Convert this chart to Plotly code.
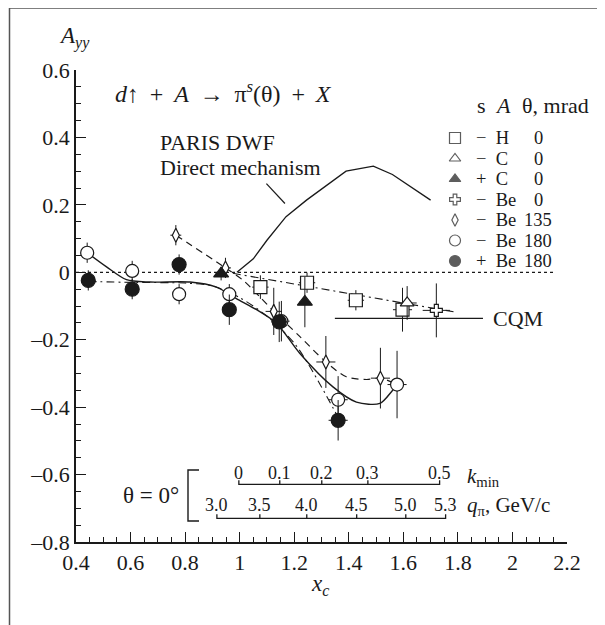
import plotly.graph_objects as go

FONT = "Liberation Serif"
INK = "#1a1a1a"

# ---------------- data ----------------
# open circles: s = -, Be, 180 mrad
oc_x = [0.441, 0.606, 0.778, 0.962, 1.153, 1.361, 1.577]
oc_y = [0.058, 0.004, -0.065, -0.065, -0.145, -0.378, -0.333]
oc_ey = [0.03, 0.03, 0.03, 0.03, 0.06, 0.07, 0.10]
oc_ex = [0.02, 0.02, 0.02, 0.02, 0.03, 0.035, 0.035]
# filled circles: s = +, Be, 180 mrad
fc_x = [0.445, 0.606, 0.778, 0.962, 1.145, 1.361]
fc_y = [-0.024, -0.050, 0.023, -0.111, -0.147, -0.439]
fc_ey = [0.03, 0.03, 0.03, 0.045, 0.06, 0.06]
fc_ex = [0.02, 0.02, 0.02, 0.02, 0.03, 0.035]
# filled triangles: s = +, C, 0
ft_x = [0.932, 1.239]
ft_y = [-0.004, -0.088]
ft_ey = [0.02, 0.075]
ft_ex = [0.02, 0.02]
# open diamonds: s = -, Be, 135 mrad
dm_x = [0.766, 0.948, 1.125, 1.316, 1.516]
dm_y = [0.110, 0.013, -0.116, -0.266, -0.314]
dm_ey = [0.03, 0.03, 0.07, 0.077, 0.09]
dm_ex = [0.02, 0.02, 0.03, 0.035, 0.035]
# open squares: s = -, H, 0
sq_x = [1.076, 1.247, 1.426, 1.597]
sq_y = [-0.044, -0.031, -0.083, -0.111]
sq_ey = [0.035, 0.03, 0.03, 0.065]
sq_ex = [0.03, 0.03, 0.03, 0.035]
# open triangle: s = -, C, 0
ot_x = [1.614]
ot_y = [-0.091]
ot_ey = [0.05]
ot_ex = [0.035]
# open cross: s = -, Be, 0
cr_x = [1.721]
cr_y = [-0.113]
cr_ey = [0.08]
cr_ex = [0.05]

# curves
fit_solid_x = [0.441, 0.512, 0.585, 0.671, 0.818, 0.915, 0.988, 1.06, 1.135, 1.22, 1.342, 1.428, 1.514, 1.561, 1.58]
fit_solid_y = [0.058, 0.016, -0.022, -0.029, -0.029, -0.044, -0.078, -0.11, -0.151, -0.24, -0.34, -0.385, -0.389, -0.35, -0.333]
fit_dd_x = [0.445, 0.6, 0.8, 0.9, 1.0, 1.1, 1.2, 1.25, 1.3, 1.361]
fit_dd_y = [-0.027, -0.03, -0.032, -0.04, -0.075, -0.13, -0.21, -0.27, -0.34, -0.43]
fit_dash_x = [0.766, 0.948, 1.013, 1.074, 1.125, 1.22, 1.316, 1.391, 1.465, 1.516, 1.577]
fit_dash_y = [0.110, 0.013, -0.024, -0.073, -0.116, -0.19, -0.266, -0.31, -0.318, -0.314, -0.333]
h_line_x = [0.975, 1.79]
h_line_y = [-0.003, -0.118]
zero_x = [0.4, 2.15]
zero_y = [0.0, 0.0]
paris_x = [0.99, 1.05, 1.10, 1.17, 1.245, 1.32, 1.39, 1.49, 1.56, 1.70]
paris_y = [0.0, 0.04, 0.095, 0.165, 0.214, 0.258, 0.30, 0.315, 0.29, 0.214]
paris_ptr_x = [1.098, 1.166]
paris_ptr_y = [0.263, 0.204]
cqm_x = [1.349, 1.892]
cqm_y = [-0.137, -0.137]

# auxiliary scales (positions in x_c)
kmin_labels = ["0", "0.1", "0.2", "0.3", "0.5"]
kmin_xc = [0.997, 1.147, 1.301, 1.470, 1.733]
q_labels = ["3.0", "3.5", "4.0", "4.5", "5.0", "5.3"]
q_xc = [0.9165, 1.074, 1.246, 1.429, 1.609, 1.755]

# axis ticks
x_ticks = [0.4, 0.6, 0.8, 1.0, 1.2, 1.4, 1.6, 1.8, 2.0, 2.2]
x_ticktext = ["0.4", "0.6", "0.8", "1", "1.2", "1.4", "1.6", "1.8", "2", "2.2"]
y_ticks = [0.6, 0.4, 0.2, 0.0, -0.2, -0.4, -0.6, -0.8]
y_ticktext = ["0.6", "0.4", "0.2", "0", "\u20130.2", "\u20130.4", "\u20130.6", "\u20130.8"]

# legend table
leg_symbols = ["square", "triangle-up", "triangle-up", "cross", "diamond-tall", "circle", "circle"]
leg_fill = ["white", "white", INK, "white", "white", "white", INK]
leg_size = [11, 10, 10, 9, 9, 11, 11]
leg_sign = ["\u2212", "\u2212", "+", "\u2212", "\u2212", "\u2212", "+"]
leg_elem = ["H", "C", "C", "Be", "Be", "Be", "Be"]
leg_theta = ["0", "0", "0", "0", "135", "180", "180"]

# ---------------- layout geometry (screen pixels) ----------------
OFF = 8  # default page body margin
WIN_W, WIN_H = 605, 625
W, H = WIN_W - OFF, WIN_H - OFF
L, R, T, B = 76, 567, 70, 542


def px(xp):
    return (xp - L) / (R - L)


def py(yp):
    return (B - yp) / (B - T)


fig = go.Figure()


def line(x, y, dash="solid", width=1.3, shape="linear"):
    fig.add_trace(go.Scatter(x=x, y=y, mode="lines", hoverinfo="skip",
                             line=dict(color=INK, width=width, dash=dash, shape=shape, smoothing=0.8),
                             showlegend=False))


line(zero_x, zero_y, dash="3px,3px", width=1.2)
line(fit_solid_x, fit_solid_y, width=1.4, shape="spline")
line(fit_dd_x, fit_dd_y, dash="8px,4px,2px,4px", width=1.1, shape="spline")
line(fit_dash_x, fit_dash_y, dash="7px,5px", width=1.2, shape="spline")
line(h_line_x, h_line_y, dash="8px,4px,2px,4px", width=1.1)
line(paris_x, paris_y, width=1.3)
line(paris_ptr_x, paris_ptr_y, width=1.2)
line(cqm_x, cqm_y, width=1.3)


def pts(x, y, ey, ex, symbol, size, fill):
    fig.add_trace(go.Scatter(
        x=x, y=y, mode="markers", showlegend=False,
        marker=dict(symbol=symbol, size=size, color=fill, line=dict(color=INK, width=1.2)),
        error_y=dict(type="data", array=ey, color=INK, thickness=1, width=0),
        error_x=dict(type="data", array=ex, color=INK, thickness=1, width=0)))


pts(sq_x, sq_y, sq_ey, sq_ex, "square", 13, "white")
pts(ot_x, ot_y, ot_ey, ot_ex, "triangle-up", 12, "white")
pts(cr_x, cr_y, cr_ey, cr_ex, "cross", 10, "white")
pts(dm_x, dm_y, dm_ey, dm_ex, "diamond-tall", 10, "white")
pts(ft_x, ft_y, ft_ey, ft_ex, "triangle-up", 13, INK)
pts(oc_x, oc_y, oc_ey, oc_ex, "circle", 13, "white")
pts(fc_x, fc_y, fc_ey, fc_ex, "circle", 14, INK)


# auxiliary scales drawn in x_c coordinates
def aux_scale(xs, labels, y_line, tick_h, y_lab, size):
    tx, ty = [], []
    for xv in xs:
        tx += [xv, xv, xv]
        ty += [y_line, y_line + tick_h, y_line]
    fig.add_trace(go.Scatter(x=tx, y=ty, mode="lines", hoverinfo="skip", showlegend=False,
                             line=dict(color=INK, width=1.3)))
    for xv, lab in zip(xs, labels):
        fig.add_annotation(x=xv, y=y_lab, text=lab, showarrow=False, xref="x", yref="y",
                           font=dict(size=size, family=FONT, color=INK))


aux_scale(kmin_xc, kmin_labels, -0.629, 0.012, -0.596, 18)
aux_scale(q_xc, q_labels, -0.730, 0.012, -0.690, 18)

# legend symbols on an overlay axis in plot-fraction units
row_y0, row_step = py(138), (py(138) - py(261)) / 6
row_y = [row_y0 - i * row_step for i in range(len(leg_symbols))]
fig.add_trace(go.Scatter(x=[px(455)] * len(leg_symbols), y=row_y, mode="markers", xaxis="x2", yaxis="y2",
                         showlegend=False, hoverinfo="skip",
                         marker=dict(symbol=leg_symbols, size=leg_size, color=leg_fill,
                                     line=dict(color=INK, width=1.2))))


def ann(x, y, text, size=22, xanchor="center", yanchor="middle", xref="paper", yref="paper"):
    fig.add_annotation(x=x, y=y, text=text, showarrow=False, xref=xref, yref=yref,
                       xanchor=xanchor, yanchor=yanchor, borderpad=0,
                       font=dict(size=size, family=FONT, color=INK))


for yv, s, e, t in zip(row_y, leg_sign, leg_elem, leg_theta):
    ann(px(475), yv, s + "\u2002" + e, size=18.5, xanchor="left")
    ann(px(538), yv, t, size=18.5)

ann(px(481), py(105), "s", size=22)
ann(px(503), py(105), "<i>A</i>", size=22)
ann(px(521), py(105), "\u03b8, mrad", size=22, xanchor="left")

sp = " \u2009"
ann(px(114), py(92), f"<i>d</i>\u2191{sp}+{sp}<i>A</i>{sp}\u2192{sp}\u03c0<sup><i>s</i></sup>(\u03b8){sp}+{sp}<i>X</i>",
    size=24, xanchor="left")
ann(px(159), py(142), "PARIS DWF", size=22, xanchor="left")
ann(px(159), py(167), "Direct mechanism", size=22, xanchor="left")
ann(px(492), py(318), "CQM", size=22, xanchor="left")
ann(px(74), py(37), "<i>A</i><sub><i>yy</i></sub>", size=23)
ann(px(320), py(585), "<i>x</i><sub><i>c</i></sub>", size=23)
ann(px(151), py(495), "\u03b8 = 0\u00b0", size=23)
ann(px(466), py(477), "<i>k</i><sub>min</sub>", size=21, xanchor="left")
ann(px(466), py(506), "<i>q</i><sub>\u03c0</sub>, GeV/c", size=21, xanchor="left")

# bracket and frame
fig.add_shape(type="path", xref="paper", yref="paper",
              path=f"M {px(199)} {py(470)} L {px(188)} {py(470)} L {px(188)} {py(521)} L {px(199)} {py(521)}",
              line=dict(color=INK, width=1.4))
fig.add_shape(type="path", xref="paper", yref="paper",
              path=f"M {px(9.5)} {py(626)} L {px(9.5)} {py(8)} L {px(606)} {py(8)}",
              line=dict(color="#555555", width=1.5))

fig.update_layout(
    width=W, height=H, margin=dict(l=L - OFF, r=WIN_W - R, t=T - OFF, b=WIN_H - B),
    plot_bgcolor="white", paper_bgcolor="white", showlegend=False,
    font=dict(family=FONT, color=INK, size=22),
    xaxis=dict(range=[0.4, 2.2], tickvals=x_ticks, ticktext=x_ticktext, ticks="inside", ticklen=10,
               tickwidth=1.3, tickcolor=INK, showline=True, linecolor=INK, linewidth=1.5,
               showgrid=False, zeroline=False, tickfont=dict(size=22, family=FONT, color=INK),
               minor=dict(ticks="inside", ticklen=5, dtick=0.05, tick0=0.4, tickcolor=INK, tickwidth=1.2)),
    yaxis=dict(range=[-0.8, 0.6], tickvals=y_ticks, ticktext=y_ticktext, ticks="inside", ticklen=10,
               tickwidth=1.3, tickcolor=INK, showline=True, linecolor=INK, linewidth=1.5,
               showgrid=False, zeroline=False, tickfont=dict(size=22, family=FONT, color=INK),
               minor=dict(ticks="inside", ticklen=5, dtick=0.05, tick0=0.0, tickcolor=INK, tickwidth=1.2)),
    xaxis2=dict(overlaying="x", anchor="y2", range=[0, 1], visible=False),
    yaxis2=dict(overlaying="y", anchor="x2", range=[0, 1], visible=False),
)

fig.write_html("out.html")
